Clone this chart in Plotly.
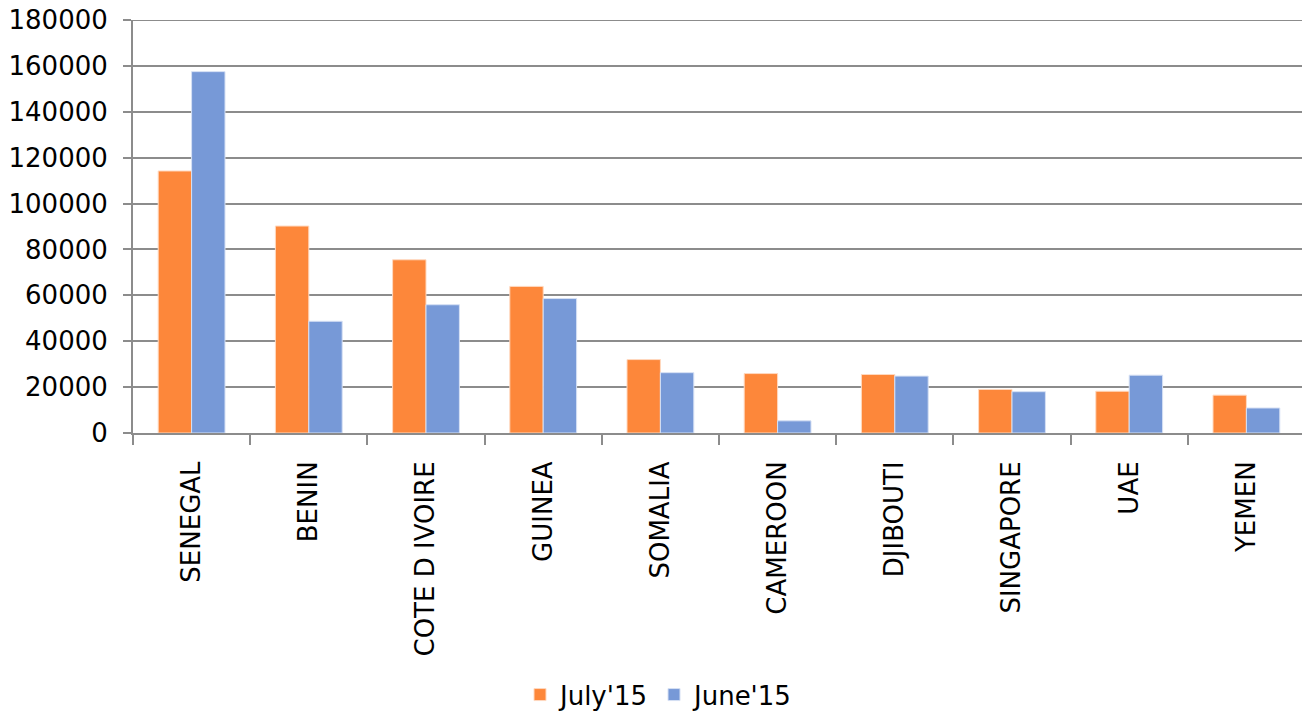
import plotly.graph_objects as go

countries = ["SENEGAL", "BENIN", "COTE D IVOIRE", "GUINEA", "SOMALIA",
             "CAMEROON", "DJIBOUTI", "SINGAPORE", "UAE", "YEMEN"]
july15 = [114200, 90200, 75500, 63900, 32000, 25900, 25500, 19000, 18200, 16500]
june15 = [157500, 48700, 55900, 58600, 26300, 5300, 24800, 18000, 25200, 10900]
y_ticks = [0, 20000, 40000, 60000, 80000, 100000, 120000, 140000, 160000, 180000]

FONT = "DejaVu Sans"
GRID = "#8C8C8C"
fig = go.Figure()
fig.add_trace(go.Bar(name="July'15", x=countries, y=july15,
                     marker=dict(color="#FD873A", line=dict(color="#FFD9C0", width=1))))
fig.add_trace(go.Bar(name="June'15", x=countries, y=june15,
                     marker=dict(color="#7799D7", line=dict(color="#D6E0F4", width=1))))

# top gridline (plotly clips gridlines at the plot edge)
fig.add_shape(type="line", xref="paper", yref="y", x0=0, x1=1,
              y0=y_ticks[-1], y1=y_ticks[-1], line=dict(color=GRID, width=2), layer="below")

fig.update_layout(
    width=1302, height=705,
    margin=dict(l=125, r=5, t=12, b=280, autoexpand=False),
    paper_bgcolor="white", plot_bgcolor="white",
    barmode="group", bargap=0.43, bargroupgap=0,
    font=dict(family=FONT, size=24, color="#000000"),
    legend=dict(orientation="h", xref="container", yref="container",
                x=0.5, xanchor="center", y=0.026, yanchor="middle",
                font=dict(size=26), itemwidth=30, traceorder="normal"),
    showlegend=True,
)
fig.update_yaxes(range=[0, 180000], tickvals=y_ticks, ticktext=[str(v) for v in y_ticks],
                 showgrid=True, gridcolor=GRID, gridwidth=2,
                 showline=True, linecolor=GRID, linewidth=2,
                 ticks="outside", ticklen=8, tickcolor=GRID, tickwidth=2,
                 zeroline=False, tickfont=dict(size=26), ticklabelstandoff=10,
                 ticklabeloverflow="allow", automargin=False)
fig.update_xaxes(showline=True, linecolor=GRID, linewidth=2,
                 ticks="outside", ticklen=10, tickcolor=GRID, tickwidth=2,
                 tickson="boundaries", tickangle=-90, tickfont=dict(size=26),
                 showgrid=False, ticklabelstandoff=16, automargin=False)

fig.write_html("out.html")
